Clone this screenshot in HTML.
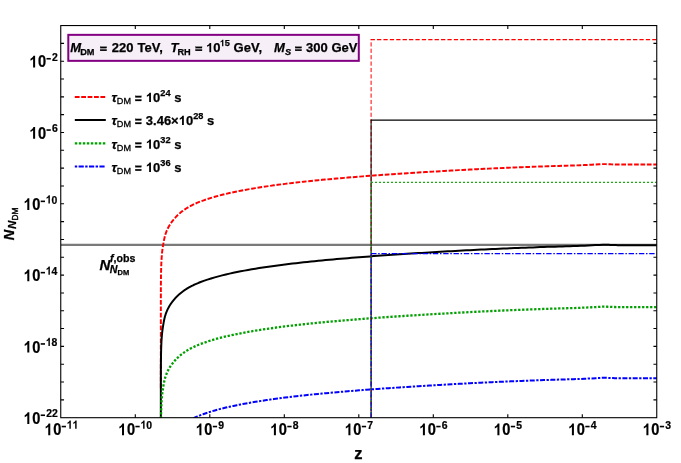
<!DOCTYPE html>
<html><head><meta charset="utf-8"><title>plot</title>
<style>
html,body{margin:0;padding:0;background:#fff;}
svg{display:block;will-change:transform;}
text{font-family:"Liberation Sans",sans-serif;font-weight:bold;fill:#000;stroke:#000;stroke-width:0.25px;}
.tk{font-size:15px;}
.sup{font-size:10.65px;}
.lg{font-size:13px;}
.lgs{font-size:9.2px;}
.sub{font-size:9.1px;font-weight:normal;stroke-width:0.3px;}
.subb{font-size:9.2px;}
.it{font-style:italic;}
.hid{fill:none;stroke:none;}
</style></head><body>
<svg width="681" height="463" viewBox="0 0 681 463">
<rect width="681" height="463" fill="#fff"/>
<defs><clipPath id="c"><rect x="60.75" y="25.55" width="596.0" height="392.15"/></clipPath></defs>
<g clip-path="url(#c)" fill="none" stroke-linejoin="round">
<path d="M60.75 244.9H656.75" stroke="#7a7a7a" stroke-width="2.2"/>
<path d="M160.83 387.90L160.83 387.60L160.83 387.26L160.83 386.86L160.83 386.41L160.83 385.89L160.83 385.31L160.83 384.65L160.83 383.91L160.83 383.08L160.83 382.16L160.83 381.14L160.83 380.03L160.83 378.81L160.83 377.49L160.83 376.07L160.83 374.55L160.83 372.94L160.83 371.23L160.83 369.43L160.83 367.56L160.83 365.60L160.83 363.58L160.83 361.49L160.83 359.35L160.83 357.16L160.83 354.91L160.83 352.63L160.83 350.32L160.83 347.97L160.83 345.59L160.83 343.19L160.83 340.77L160.83 338.34L160.84 335.88L160.84 333.42L160.84 330.94L160.84 328.45L160.84 325.95L160.84 323.45L160.84 320.94L160.84 318.43L160.84 315.91L160.84 313.38L160.84 310.86L160.84 308.33L160.85 305.79L160.85 303.26L160.85 300.73L160.85 298.19L160.86 295.65L160.86 293.11L160.87 290.57L160.88 288.03L160.89 285.49L160.91 282.95L160.94 280.41L160.97 277.86L161.00 275.32L161.05 272.78L161.11 270.24L161.18 267.69L161.27 265.15L161.37 262.61L161.50 260.07L161.67 257.53L161.86 254.99L162.10 252.46L162.39 249.92L162.75 247.39L163.63 242.07L164.25 238.87L164.88 236.24L165.51 234.08L166.14 232.28L166.76 230.72L167.39 229.32L168.02 228.02L168.64 226.80L169.27 225.68L169.90 224.65L170.53 223.68L171.15 222.77L171.78 221.91L172.41 221.08L173.03 220.27L173.66 219.49L174.29 218.74L174.92 218.02L175.54 217.33L176.17 216.66L176.80 216.02L177.42 215.40L178.05 214.80L178.68 214.22L179.31 213.67L179.93 213.13L180.56 212.61L181.19 212.10L181.81 211.61L182.44 211.13L183.07 210.66L183.69 210.21L184.32 209.77L184.95 209.33L185.58 208.91L186.20 208.50L186.83 208.10L187.46 207.71L188.08 207.34L188.71 206.97L189.34 206.62L189.97 206.27L190.59 205.94L191.22 205.61L191.85 205.29L192.47 204.98L193.10 204.68L193.73 204.38L194.36 204.09L194.98 203.80L195.61 203.52L196.24 203.25L196.86 202.98L197.49 202.71L198.12 202.45L198.75 202.19L199.37 201.94L200.00 201.69L203.70 200.30L207.39 199.02L211.09 197.85L214.79 196.76L218.49 195.74L222.18 194.79L225.88 193.89L229.58 193.04L233.28 192.23L236.97 191.46L240.67 190.72L244.37 190.02L248.06 189.35L251.76 188.71L255.46 188.10L259.16 187.51L262.85 186.94L266.55 186.39L270.25 185.86L273.94 185.34L277.64 184.84L281.34 184.35L285.04 183.88L288.73 183.42L292.43 182.98L296.13 182.54L299.83 182.12L303.52 181.71L307.22 181.31L310.92 180.93L314.61 180.56L318.31 180.20L322.01 179.84L325.71 179.50L329.40 179.17L333.10 178.84L336.80 178.51L340.50 178.19L344.19 177.88L347.89 177.57L351.59 177.26L355.28 176.96L358.98 176.66L362.68 176.37L366.38 176.08L370.07 175.79L373.77 175.52L377.47 175.24L381.17 174.97L384.86 174.70L388.56 174.44L392.26 174.19L395.95 173.93L399.65 173.68L403.35 173.44L407.05 173.20L410.74 172.97L414.44 172.74L418.14 172.52L421.83 172.29L425.53 172.07L429.23 171.85L432.93 171.63L436.62 171.41L440.32 171.20L444.02 170.98L447.72 170.77L451.41 170.56L455.11 170.35L458.81 170.14L462.50 169.94L466.20 169.74L469.90 169.54L473.60 169.35L477.29 169.16L480.99 168.98L484.69 168.80L488.39 168.62L492.08 168.45L495.78 168.29L499.48 168.13L503.17 167.96L506.87 167.80L510.57 167.65L514.27 167.49L517.96 167.34L521.66 167.20L525.36 167.05L529.06 166.91L532.75 166.78L536.45 166.64L540.15 166.51L543.84 166.39L547.54 166.27L551.24 166.15L554.94 166.03L558.63 165.92L562.33 165.81L566.03 165.70L569.72 165.60L573.42 165.50L577.12 165.37L580.82 165.22L584.51 165.05L588.21 164.88L591.91 164.69L595.61 164.50L599.30 164.31L603.00 164.10L604.45 164.11L605.91 164.14L607.36 164.19L608.82 164.24L610.27 164.30L611.73 164.36L613.18 164.42L614.64 164.47L616.09 164.51L617.55 164.54L619.00 164.55L660.00 164.55" stroke="#ff0000" stroke-width="1.95" stroke-dasharray="4.7 1.7"/>
<path d="M160.83 468.50L160.83 468.20L160.83 467.86L160.83 467.46L160.83 467.01L160.83 466.49L160.83 465.91L160.83 465.25L160.83 464.51L160.83 463.68L160.83 462.76L160.83 461.74L160.83 460.63L160.83 459.41L160.83 458.09L160.83 456.67L160.83 455.15L160.83 453.54L160.83 451.83L160.83 450.03L160.83 448.16L160.83 446.20L160.83 444.18L160.83 442.09L160.83 439.95L160.83 437.76L160.83 435.51L160.83 433.23L160.83 430.92L160.83 428.57L160.83 426.19L160.83 423.79L160.83 421.37L160.83 418.94L160.84 416.48L160.84 414.02L160.84 411.54L160.84 409.05L160.84 406.55L160.84 404.05L160.84 401.54L160.84 399.03L160.84 396.51L160.84 393.98L160.84 391.46L160.84 388.93L160.85 386.39L160.85 383.86L160.85 381.33L160.85 378.79L160.86 376.25L160.86 373.71L160.87 371.17L160.88 368.63L160.89 366.09L160.91 363.55L160.94 361.01L160.97 358.46L161.00 355.92L161.05 353.38L161.11 350.84L161.18 348.29L161.27 345.75L161.37 343.21L161.50 340.67L161.67 338.13L161.86 335.59L162.10 333.06L162.39 330.52L162.75 327.99L163.63 322.67L164.25 319.47L164.88 316.84L165.51 314.68L166.14 312.88L166.76 311.32L167.39 309.92L168.02 308.62L168.64 307.40L169.27 306.28L169.90 305.25L170.53 304.28L171.15 303.37L171.78 302.51L172.41 301.68L173.03 300.87L173.66 300.09L174.29 299.34L174.92 298.62L175.54 297.93L176.17 297.26L176.80 296.62L177.42 296.00L178.05 295.40L178.68 294.82L179.31 294.27L179.93 293.73L180.56 293.21L181.19 292.70L181.81 292.21L182.44 291.73L183.07 291.26L183.69 290.81L184.32 290.37L184.95 289.93L185.58 289.51L186.20 289.10L186.83 288.70L187.46 288.31L188.08 287.94L188.71 287.57L189.34 287.22L189.97 286.87L190.59 286.54L191.22 286.21L191.85 285.89L192.47 285.58L193.10 285.28L193.73 284.98L194.36 284.69L194.98 284.40L195.61 284.12L196.24 283.85L196.86 283.58L197.49 283.31L198.12 283.05L198.75 282.79L199.37 282.54L200.00 282.29L203.70 280.90L207.39 279.62L211.09 278.45L214.79 277.36L218.49 276.34L222.18 275.39L225.88 274.49L229.58 273.64L233.28 272.83L236.97 272.06L240.67 271.32L244.37 270.62L248.06 269.95L251.76 269.31L255.46 268.70L259.16 268.11L262.85 267.54L266.55 266.99L270.25 266.46L273.94 265.94L277.64 265.44L281.34 264.95L285.04 264.48L288.73 264.02L292.43 263.58L296.13 263.14L299.83 262.72L303.52 262.31L307.22 261.91L310.92 261.53L314.61 261.16L318.31 260.80L322.01 260.44L325.71 260.10L329.40 259.77L333.10 259.44L336.80 259.11L340.50 258.79L344.19 258.48L347.89 258.17L351.59 257.86L355.28 257.56L358.98 257.26L362.68 256.97L366.38 256.68L370.07 256.39L373.77 256.12L377.47 255.84L381.17 255.57L384.86 255.30L388.56 255.04L392.26 254.79L395.95 254.53L399.65 254.28L403.35 254.04L407.05 253.80L410.74 253.57L414.44 253.34L418.14 253.12L421.83 252.89L425.53 252.67L429.23 252.45L432.93 252.23L436.62 252.01L440.32 251.80L444.02 251.58L447.72 251.37L451.41 251.16L455.11 250.95L458.81 250.74L462.50 250.54L466.20 250.34L469.90 250.14L473.60 249.95L477.29 249.76L480.99 249.58L484.69 249.40L488.39 249.22L492.08 249.05L495.78 248.89L499.48 248.73L503.17 248.56L506.87 248.40L510.57 248.25L514.27 248.09L517.96 247.94L521.66 247.80L525.36 247.65L529.06 247.51L532.75 247.38L536.45 247.24L540.15 247.11L543.84 246.99L547.54 246.87L551.24 246.75L554.94 246.63L558.63 246.52L562.33 246.41L566.03 246.30L569.72 246.20L573.42 246.10L577.12 245.97L580.82 245.82L584.51 245.65L588.21 245.48L591.91 245.29L595.61 245.10L599.30 244.91L603.00 244.70L604.45 244.71L605.91 244.74L607.36 244.79L608.82 244.84L610.27 244.90L611.73 244.96L613.18 245.02L614.64 245.07L616.09 245.11L617.55 245.14L619.00 245.15L660.00 245.15" stroke="#000" stroke-width="2"/>
<path d="M160.83 530.45L160.83 530.15L160.83 529.81L160.83 529.41L160.83 528.96L160.83 528.44L160.83 527.86L160.83 527.20L160.83 526.46L160.83 525.63L160.83 524.71L160.83 523.69L160.83 522.58L160.83 521.36L160.83 520.04L160.83 518.62L160.83 517.10L160.83 515.49L160.83 513.78L160.83 511.98L160.83 510.11L160.83 508.15L160.83 506.13L160.83 504.04L160.83 501.90L160.83 499.71L160.83 497.46L160.83 495.18L160.83 492.87L160.83 490.52L160.83 488.14L160.83 485.74L160.83 483.32L160.83 480.89L160.84 478.43L160.84 475.97L160.84 473.49L160.84 471.00L160.84 468.50L160.84 466.00L160.84 463.49L160.84 460.98L160.84 458.46L160.84 455.93L160.84 453.41L160.84 450.88L160.85 448.34L160.85 445.81L160.85 443.28L160.85 440.74L160.86 438.20L160.86 435.66L160.87 433.12L160.88 430.58L160.89 428.04L160.91 425.50L160.94 422.96L160.97 420.41L161.00 417.87L161.05 415.33L161.11 412.79L161.18 410.24L161.27 407.70L161.37 405.16L161.50 402.62L161.67 400.08L161.86 397.54L162.10 395.01L162.39 392.47L162.75 389.94L163.63 384.62L164.25 381.42L164.88 378.79L165.51 376.63L166.14 374.83L166.76 373.27L167.39 371.87L168.02 370.57L168.64 369.35L169.27 368.23L169.90 367.20L170.53 366.23L171.15 365.32L171.78 364.46L172.41 363.63L173.03 362.82L173.66 362.04L174.29 361.29L174.92 360.57L175.54 359.88L176.17 359.21L176.80 358.57L177.42 357.95L178.05 357.35L178.68 356.77L179.31 356.22L179.93 355.68L180.56 355.16L181.19 354.65L181.81 354.16L182.44 353.68L183.07 353.21L183.69 352.76L184.32 352.32L184.95 351.88L185.58 351.46L186.20 351.05L186.83 350.65L187.46 350.26L188.08 349.89L188.71 349.52L189.34 349.17L189.97 348.82L190.59 348.49L191.22 348.16L191.85 347.84L192.47 347.53L193.10 347.23L193.73 346.93L194.36 346.64L194.98 346.35L195.61 346.07L196.24 345.80L196.86 345.53L197.49 345.26L198.12 345.00L198.75 344.74L199.37 344.49L200.00 344.24L203.70 342.85L207.39 341.57L211.09 340.40L214.79 339.31L218.49 338.29L222.18 337.34L225.88 336.44L229.58 335.59L233.28 334.78L236.97 334.01L240.67 333.27L244.37 332.57L248.06 331.90L251.76 331.26L255.46 330.65L259.16 330.06L262.85 329.49L266.55 328.94L270.25 328.41L273.94 327.89L277.64 327.39L281.34 326.90L285.04 326.43L288.73 325.97L292.43 325.53L296.13 325.09L299.83 324.67L303.52 324.26L307.22 323.86L310.92 323.48L314.61 323.11L318.31 322.75L322.01 322.39L325.71 322.05L329.40 321.72L333.10 321.39L336.80 321.06L340.50 320.74L344.19 320.43L347.89 320.12L351.59 319.81L355.28 319.51L358.98 319.21L362.68 318.92L366.38 318.63L370.07 318.34L373.77 318.07L377.47 317.79L381.17 317.52L384.86 317.25L388.56 316.99L392.26 316.74L395.95 316.48L399.65 316.23L403.35 315.99L407.05 315.75L410.74 315.52L414.44 315.29L418.14 315.07L421.83 314.84L425.53 314.62L429.23 314.40L432.93 314.18L436.62 313.96L440.32 313.75L444.02 313.53L447.72 313.32L451.41 313.11L455.11 312.90L458.81 312.69L462.50 312.49L466.20 312.29L469.90 312.09L473.60 311.90L477.29 311.71L480.99 311.53L484.69 311.35L488.39 311.17L492.08 311.00L495.78 310.84L499.48 310.68L503.17 310.51L506.87 310.35L510.57 310.20L514.27 310.04L517.96 309.89L521.66 309.75L525.36 309.60L529.06 309.46L532.75 309.33L536.45 309.19L540.15 309.06L543.84 308.94L547.54 308.82L551.24 308.70L554.94 308.58L558.63 308.47L562.33 308.36L566.03 308.25L569.72 308.15L573.42 308.05L577.12 307.92L580.82 307.77L584.51 307.60L588.21 307.43L591.91 307.24L595.61 307.05L599.30 306.86L603.00 306.65L604.45 306.66L605.91 306.69L607.36 306.74L608.82 306.79L610.27 306.85L611.73 306.91L613.18 306.97L614.64 307.02L616.09 307.06L617.55 307.09L619.00 307.10L660.00 307.10" stroke="#00a000" stroke-width="2.3" stroke-dasharray="2.3 1.7"/>
<path d="M160.83 601.60L160.83 601.30L160.83 600.96L160.83 600.56L160.83 600.11L160.83 599.59L160.83 599.01L160.83 598.35L160.83 597.61L160.83 596.78L160.83 595.86L160.83 594.84L160.83 593.73L160.83 592.51L160.83 591.19L160.83 589.77L160.83 588.25L160.83 586.64L160.83 584.93L160.83 583.13L160.83 581.26L160.83 579.30L160.83 577.28L160.83 575.19L160.83 573.05L160.83 570.86L160.83 568.61L160.83 566.33L160.83 564.02L160.83 561.67L160.83 559.29L160.83 556.89L160.83 554.47L160.83 552.04L160.84 549.58L160.84 547.12L160.84 544.64L160.84 542.15L160.84 539.65L160.84 537.15L160.84 534.64L160.84 532.13L160.84 529.61L160.84 527.08L160.84 524.56L160.84 522.03L160.85 519.49L160.85 516.96L160.85 514.43L160.85 511.89L160.86 509.35L160.86 506.81L160.87 504.27L160.88 501.73L160.89 499.19L160.91 496.65L160.94 494.11L160.97 491.56L161.00 489.02L161.05 486.48L161.11 483.94L161.18 481.39L161.27 478.85L161.37 476.31L161.50 473.77L161.67 471.23L161.86 468.69L162.10 466.16L162.39 463.62L162.75 461.09L163.63 455.77L164.25 452.57L164.88 449.94L165.51 447.78L166.14 445.98L166.76 444.42L167.39 443.02L168.02 441.72L168.64 440.50L169.27 439.38L169.90 438.35L170.53 437.38L171.15 436.47L171.78 435.61L172.41 434.78L173.03 433.97L173.66 433.19L174.29 432.44L174.92 431.72L175.54 431.03L176.17 430.36L176.80 429.72L177.42 429.10L178.05 428.50L178.68 427.92L179.31 427.37L179.93 426.83L180.56 426.31L181.19 425.80L181.81 425.31L182.44 424.83L183.07 424.36L183.69 423.91L184.32 423.47L184.95 423.03L185.58 422.61L186.20 422.20L186.83 421.80L187.46 421.41L188.08 421.04L188.71 420.67L189.34 420.32L189.97 419.97L190.59 419.64L191.22 419.31L191.85 418.99L192.47 418.68L193.10 418.38L193.73 418.08L194.36 417.79L194.98 417.50L195.61 417.22L196.24 416.95L196.86 416.68L197.49 416.41L198.12 416.15L198.75 415.89L199.37 415.64L200.00 415.39L203.70 414.00L207.39 412.72L211.09 411.55L214.79 410.46L218.49 409.44L222.18 408.49L225.88 407.59L229.58 406.74L233.28 405.93L236.97 405.16L240.67 404.42L244.37 403.72L248.06 403.05L251.76 402.41L255.46 401.80L259.16 401.21L262.85 400.64L266.55 400.09L270.25 399.56L273.94 399.04L277.64 398.54L281.34 398.05L285.04 397.58L288.73 397.12L292.43 396.68L296.13 396.24L299.83 395.82L303.52 395.41L307.22 395.01L310.92 394.63L314.61 394.26L318.31 393.90L322.01 393.54L325.71 393.20L329.40 392.87L333.10 392.54L336.80 392.21L340.50 391.89L344.19 391.58L347.89 391.27L351.59 390.96L355.28 390.66L358.98 390.36L362.68 390.07L366.38 389.78L370.07 389.49L373.77 389.22L377.47 388.94L381.17 388.67L384.86 388.40L388.56 388.14L392.26 387.89L395.95 387.63L399.65 387.38L403.35 387.14L407.05 386.90L410.74 386.67L414.44 386.44L418.14 386.22L421.83 385.99L425.53 385.77L429.23 385.55L432.93 385.33L436.62 385.11L440.32 384.90L444.02 384.68L447.72 384.47L451.41 384.26L455.11 384.05L458.81 383.84L462.50 383.64L466.20 383.44L469.90 383.24L473.60 383.05L477.29 382.86L480.99 382.68L484.69 382.50L488.39 382.32L492.08 382.15L495.78 381.99L499.48 381.83L503.17 381.66L506.87 381.50L510.57 381.35L514.27 381.19L517.96 381.04L521.66 380.90L525.36 380.75L529.06 380.61L532.75 380.48L536.45 380.34L540.15 380.21L543.84 380.09L547.54 379.97L551.24 379.85L554.94 379.73L558.63 379.62L562.33 379.51L566.03 379.40L569.72 379.30L573.42 379.20L577.12 379.07L580.82 378.92L584.51 378.75L588.21 378.58L591.91 378.39L595.61 378.20L599.30 378.01L603.00 377.80L604.45 377.81L605.91 377.84L607.36 377.89L608.82 377.94L610.27 378.00L611.73 378.06L613.18 378.12L614.64 378.17L616.09 378.21L617.55 378.24L619.00 378.25L660.00 378.25" stroke="#0000ff" stroke-width="2" stroke-dasharray="5 1.5 2.3 1.5"/>
<path d="M371.1 417.7V39.7" stroke="#ff0000" stroke-width="1" stroke-dasharray="4.2 2.2"/>
<path d="M370.6 39.7H656.75" stroke="#ff0000" stroke-width="1.3" stroke-dasharray="4.3 2.1"/>
<path d="M371.1 417.7V120.2" stroke="#000" stroke-width="1"/>
<path d="M370.6 120.2H656.75" stroke="#000" stroke-width="1.2"/>
<path d="M371.1 417.7V182.3" stroke="#00a000" stroke-width="1" stroke-dasharray="1.8 2.2"/>
<path d="M371.1 182.3H656.75" stroke="#00a000" stroke-width="1.25" stroke-dasharray="1.8 2.2"/>
<path d="M371.1 417.7V253.55" stroke="#0000ff" stroke-width="1" stroke-dasharray="5.4 1.7 1.5 1.7"/>
<path d="M371.1 253.55H656.75" stroke="#0000ff" stroke-width="1.25" stroke-dasharray="5.4 1.7 1.5 1.7"/>
</g>
<g fill="none" stroke="#000" stroke-width="1.1">
<rect x="60.75" y="25.55" width="596.0" height="392.15"/>
<path d="M60.75 399.88h3.3M656.75 399.88h-3.3"/><path d="M60.75 382.05h3.3M656.75 382.05h-3.3"/><path d="M60.75 364.23h3.3M656.75 364.23h-3.3"/><path d="M60.75 346.40h3.3M656.75 346.40h-3.3"/><path d="M60.75 328.57h3.3M656.75 328.57h-3.3"/><path d="M60.75 310.75h3.3M656.75 310.75h-3.3"/><path d="M60.75 292.93h3.3M656.75 292.93h-3.3"/><path d="M60.75 275.10h3.3M656.75 275.10h-3.3"/><path d="M60.75 257.27h3.3M656.75 257.27h-3.3"/><path d="M60.75 239.45h3.3M656.75 239.45h-3.3"/><path d="M60.75 221.62h3.3M656.75 221.62h-3.3"/><path d="M60.75 203.80h3.3M656.75 203.80h-3.3"/><path d="M60.75 185.97h3.3M656.75 185.97h-3.3"/><path d="M60.75 168.15h3.3M656.75 168.15h-3.3"/><path d="M60.75 150.32h3.3M656.75 150.32h-3.3"/><path d="M60.75 132.50h3.3M656.75 132.50h-3.3"/><path d="M60.75 114.67h3.3M656.75 114.67h-3.3"/><path d="M60.75 96.85h3.3M656.75 96.85h-3.3"/><path d="M60.75 79.02h3.3M656.75 79.02h-3.3"/><path d="M60.75 61.20h3.3M656.75 61.20h-3.3"/><path d="M60.75 43.38h3.3M656.75 43.38h-3.3"/><path d="M135.30 417.70v-3.5M135.30 25.55v3.5"/><path d="M209.80 417.70v-3.5M209.80 25.55v3.5"/><path d="M284.30 417.70v-3.5M284.30 25.55v3.5"/><path d="M358.80 417.70v-3.5M358.80 25.55v3.5"/><path d="M433.30 417.70v-3.5M433.30 25.55v3.5"/><path d="M507.80 417.70v-3.5M507.80 25.55v3.5"/><path d="M582.30 417.70v-3.5M582.30 25.55v3.5"/>
</g>
<g transform="translate(24.70,423.90)"><path d="M806 0H524V1055Q370 911 161 842V1096Q271 1132 400 1232Q529 1333 577 1467H806Z" transform="translate(-1.15,0.00) scale(0.00716,-0.00796)"/><text transform="translate(7.51,0.00) scale(0.900,1)" style="font-size:16.30px">0</text><rect x="16.0" y="-9.45" width="4.3" height="1.6" fill="#000"/><text transform="translate(21.50,-6.50) scale(0.900,1)" style="font-size:11.60px">2</text><text transform="translate(27.30,-6.50) scale(0.900,1)" style="font-size:11.60px">2</text></g><g transform="translate(24.70,352.60)"><path d="M806 0H524V1055Q370 911 161 842V1096Q271 1132 400 1232Q529 1333 577 1467H806Z" transform="translate(-1.15,0.00) scale(0.00716,-0.00796)"/><text transform="translate(7.51,0.00) scale(0.900,1)" style="font-size:16.30px">0</text><rect x="16.0" y="-9.45" width="4.3" height="1.6" fill="#000"/><path d="M806 0H524V1055Q370 911 161 842V1096Q271 1132 400 1232Q529 1333 577 1467H806Z" transform="translate(21.05,-6.50) scale(0.00510,-0.00566)"/><text transform="translate(26.85,-6.50) scale(0.900,1)" style="font-size:11.60px">8</text></g><g transform="translate(24.70,281.30)"><path d="M806 0H524V1055Q370 911 161 842V1096Q271 1132 400 1232Q529 1333 577 1467H806Z" transform="translate(-1.15,0.00) scale(0.00716,-0.00796)"/><text transform="translate(7.51,0.00) scale(0.900,1)" style="font-size:16.30px">0</text><rect x="16.0" y="-9.45" width="4.3" height="1.6" fill="#000"/><path d="M806 0H524V1055Q370 911 161 842V1096Q271 1132 400 1232Q529 1333 577 1467H806Z" transform="translate(21.05,-6.50) scale(0.00510,-0.00566)"/><text transform="translate(26.85,-6.50) scale(0.900,1)" style="font-size:11.60px">4</text></g><g transform="translate(24.70,210.00)"><path d="M806 0H524V1055Q370 911 161 842V1096Q271 1132 400 1232Q529 1333 577 1467H806Z" transform="translate(-1.15,0.00) scale(0.00716,-0.00796)"/><text transform="translate(7.51,0.00) scale(0.900,1)" style="font-size:16.30px">0</text><rect x="16.0" y="-9.45" width="4.3" height="1.6" fill="#000"/><path d="M806 0H524V1055Q370 911 161 842V1096Q271 1132 400 1232Q529 1333 577 1467H806Z" transform="translate(21.05,-6.50) scale(0.00510,-0.00566)"/><text transform="translate(26.85,-6.50) scale(0.900,1)" style="font-size:11.60px">0</text></g><g transform="translate(30.50,138.70)"><path d="M806 0H524V1055Q370 911 161 842V1096Q271 1132 400 1232Q529 1333 577 1467H806Z" transform="translate(-1.15,0.00) scale(0.00716,-0.00796)"/><text transform="translate(7.51,0.00) scale(0.900,1)" style="font-size:16.30px">0</text><rect x="16.0" y="-9.45" width="4.3" height="1.6" fill="#000"/><text transform="translate(21.50,-6.50) scale(0.900,1)" style="font-size:11.60px">6</text></g><g transform="translate(30.50,67.40)"><path d="M806 0H524V1055Q370 911 161 842V1096Q271 1132 400 1232Q529 1333 577 1467H806Z" transform="translate(-1.15,0.00) scale(0.00716,-0.00796)"/><text transform="translate(7.51,0.00) scale(0.900,1)" style="font-size:16.30px">0</text><rect x="16.0" y="-9.45" width="4.3" height="1.6" fill="#000"/><text transform="translate(21.50,-6.50) scale(0.900,1)" style="font-size:11.60px">2</text></g><g transform="translate(45.65,435.20)"><path d="M806 0H524V1055Q370 911 161 842V1096Q271 1132 400 1232Q529 1333 577 1467H806Z" transform="translate(-1.15,0.00) scale(0.00716,-0.00796)"/><text transform="translate(7.51,0.00) scale(0.900,1)" style="font-size:16.30px">0</text><rect x="16.0" y="-9.45" width="4.3" height="1.6" fill="#000"/><path d="M806 0H524V1055Q370 911 161 842V1096Q271 1132 400 1232Q529 1333 577 1467H806Z" transform="translate(21.05,-6.50) scale(0.00510,-0.00566)"/><path d="M806 0H524V1055Q370 911 161 842V1096Q271 1132 400 1232Q529 1333 577 1467H806Z" transform="translate(26.85,-6.50) scale(0.00510,-0.00566)"/></g><g transform="translate(119.40,435.20)"><path d="M806 0H524V1055Q370 911 161 842V1096Q271 1132 400 1232Q529 1333 577 1467H806Z" transform="translate(-1.15,0.00) scale(0.00716,-0.00796)"/><text transform="translate(7.51,0.00) scale(0.900,1)" style="font-size:16.30px">0</text><rect x="16.0" y="-9.45" width="4.3" height="1.6" fill="#000"/><path d="M806 0H524V1055Q370 911 161 842V1096Q271 1132 400 1232Q529 1333 577 1467H806Z" transform="translate(21.05,-6.50) scale(0.00510,-0.00566)"/><text transform="translate(26.85,-6.50) scale(0.900,1)" style="font-size:11.60px">0</text></g><g transform="translate(196.80,435.20)"><path d="M806 0H524V1055Q370 911 161 842V1096Q271 1132 400 1232Q529 1333 577 1467H806Z" transform="translate(-1.15,0.00) scale(0.00716,-0.00796)"/><text transform="translate(7.51,0.00) scale(0.900,1)" style="font-size:16.30px">0</text><rect x="16.0" y="-9.45" width="4.3" height="1.6" fill="#000"/><text transform="translate(21.50,-6.50) scale(0.900,1)" style="font-size:11.60px">9</text></g><g transform="translate(271.30,435.20)"><path d="M806 0H524V1055Q370 911 161 842V1096Q271 1132 400 1232Q529 1333 577 1467H806Z" transform="translate(-1.15,0.00) scale(0.00716,-0.00796)"/><text transform="translate(7.51,0.00) scale(0.900,1)" style="font-size:16.30px">0</text><rect x="16.0" y="-9.45" width="4.3" height="1.6" fill="#000"/><text transform="translate(21.50,-6.50) scale(0.900,1)" style="font-size:11.60px">8</text></g><g transform="translate(345.80,435.20)"><path d="M806 0H524V1055Q370 911 161 842V1096Q271 1132 400 1232Q529 1333 577 1467H806Z" transform="translate(-1.15,0.00) scale(0.00716,-0.00796)"/><text transform="translate(7.51,0.00) scale(0.900,1)" style="font-size:16.30px">0</text><rect x="16.0" y="-9.45" width="4.3" height="1.6" fill="#000"/><text transform="translate(21.50,-6.50) scale(0.900,1)" style="font-size:11.60px">7</text></g><g transform="translate(420.30,435.20)"><path d="M806 0H524V1055Q370 911 161 842V1096Q271 1132 400 1232Q529 1333 577 1467H806Z" transform="translate(-1.15,0.00) scale(0.00716,-0.00796)"/><text transform="translate(7.51,0.00) scale(0.900,1)" style="font-size:16.30px">0</text><rect x="16.0" y="-9.45" width="4.3" height="1.6" fill="#000"/><text transform="translate(21.50,-6.50) scale(0.900,1)" style="font-size:11.60px">6</text></g><g transform="translate(494.80,435.20)"><path d="M806 0H524V1055Q370 911 161 842V1096Q271 1132 400 1232Q529 1333 577 1467H806Z" transform="translate(-1.15,0.00) scale(0.00716,-0.00796)"/><text transform="translate(7.51,0.00) scale(0.900,1)" style="font-size:16.30px">0</text><rect x="16.0" y="-9.45" width="4.3" height="1.6" fill="#000"/><text transform="translate(21.50,-6.50) scale(0.900,1)" style="font-size:11.60px">5</text></g><g transform="translate(569.30,435.20)"><path d="M806 0H524V1055Q370 911 161 842V1096Q271 1132 400 1232Q529 1333 577 1467H806Z" transform="translate(-1.15,0.00) scale(0.00716,-0.00796)"/><text transform="translate(7.51,0.00) scale(0.900,1)" style="font-size:16.30px">0</text><rect x="16.0" y="-9.45" width="4.3" height="1.6" fill="#000"/><text transform="translate(21.50,-6.50) scale(0.900,1)" style="font-size:11.60px">4</text></g><g transform="translate(643.80,435.20)"><path d="M806 0H524V1055Q370 911 161 842V1096Q271 1132 400 1232Q529 1333 577 1467H806Z" transform="translate(-1.15,0.00) scale(0.00716,-0.00796)"/><text transform="translate(7.51,0.00) scale(0.900,1)" style="font-size:16.30px">0</text><rect x="16.0" y="-9.45" width="4.3" height="1.6" fill="#000"/><text transform="translate(21.50,-6.50) scale(0.900,1)" style="font-size:11.60px">3</text></g>
<text x="358.3" y="458.7" text-anchor="middle" style="font-size:16.5px">z</text>
<g transform="translate(14.3,240.3) rotate(-90)"><text transform="scale(0.96,1)" x="0" y="0" style="font-size:15px" class="it">N</text><text x="11.4" y="2.0" style="font-size:11.6px" class="it">N</text><text x="19.9" y="3.9" style="font-size:8.3px;font-weight:normal;stroke-width:0.4px">DM</text></g>
<text x="99.4" y="269.8" style="font-size:14.9px" class="it">N</text>
<text x="110" y="261.5" style="font-size:10.65px"><tspan class="it">f</tspan>,obs</text>
<text x="109.8" y="272.8" style="font-size:10.65px" class="it">N<tspan dy="1.9" style="font-size:7.5px;font-style:normal">DM</tspan></text>
<rect x="68.3" y="34.85" width="290.5" height="26" fill="#f6eff7" stroke="#830083" stroke-width="2"/>
<text x="70.3" y="52.2" class="lg"><tspan class="it">M</tspan><tspan class="subb" dy="2.4" dx="-0.9">DM</tspan><tspan dy="-2.4" dx="5.0"><tspan class="hid">=</tspan></tspan><tspan dx="4.6">220</tspan><tspan dx="4.1">TeV,</tspan><tspan dx="7.6" class="it">T</tspan><tspan class="subb" dy="2.4" dx="-1.0">RH</tspan><tspan dy="-2.4" dx="4.2"><tspan class="hid">=</tspan></tspan><tspan dx="3.6"><tspan class="hid">1</tspan>0</tspan><tspan class="lgs" dy="-5.9" dx="-0.8"><tspan class="hid">1</tspan>5</tspan><tspan dy="5.9" dx="3.6">GeV,</tspan><tspan dx="12.1" class="it">M</tspan><tspan class="subb it" dy="2.4">S</tspan><tspan dy="-2.4" dx="3.4"><tspan class="hid">=</tspan></tspan><tspan dx="3.9">300</tspan><tspan dx="3.8">GeV</tspan></text>
<g fill="none" stroke-width="2">
<path d="M74.8 96.9H105.8" stroke="#ff0000" stroke-dasharray="4.8 1.6"/>
<path d="M74.8 120H105.8" stroke="#000"/>
<path d="M74.8 143.4H105.8" stroke="#00a000" stroke-width="2.2" stroke-dasharray="2.5 1.5"/>
<path d="M74.8 166.6H105.8" stroke="#0000ff" stroke-dasharray="5.2 1.4 2.4 1.4" stroke-dashoffset="6.6"/>
</g>
<text x="111.5" y="102.1" class="lg"><tspan class="it">τ</tspan><tspan class="sub" dy="2.3">DM</tspan><tspan dy="-2.3"> <tspan class="hid">=</tspan> <tspan class="hid">1</tspan>0</tspan><tspan class="lgs" dy="-6.1">24</tspan><tspan dy="6.1"> s</tspan></text>
<text x="111.5" y="125.1" class="lg"><tspan class="it">τ</tspan><tspan class="sub" dy="2.3">DM</tspan><tspan dy="-2.3"> <tspan class="hid">=</tspan> 3.46×<tspan class="hid">1</tspan>0</tspan><tspan class="lgs" dy="-6.1">28</tspan><tspan dy="6.1"> s</tspan></text>
<text x="111.5" y="148.7" class="lg"><tspan class="it">τ</tspan><tspan class="sub" dy="2.3">DM</tspan><tspan dy="-2.3"> <tspan class="hid">=</tspan> <tspan class="hid">1</tspan>0</tspan><tspan class="lgs" dy="-6.1">32</tspan><tspan dy="6.1"> s</tspan></text>
<text x="111.5" y="171.9" class="lg"><tspan class="it">τ</tspan><tspan class="sub" dy="2.3">DM</tspan><tspan dy="-2.3"> <tspan class="hid">=</tspan> <tspan class="hid">1</tspan>0</tspan><tspan class="lgs" dy="-6.1">36</tspan><tspan dy="6.1"> s</tspan></text>
<g fill="#000" stroke="#000" stroke-width="0.2"><rect x="100.19" y="46.70" width="6.50" height="1.50"/><rect x="100.19" y="49.40" width="6.50" height="1.50"/><rect x="195.52" y="46.70" width="6.50" height="1.50"/><rect x="195.52" y="49.40" width="6.50" height="1.50"/><path d="M806 0H524V1055Q370 911 161 842V1096Q271 1132 400 1232Q529 1333 577 1467H806Z" transform="translate(206.06,52.20) scale(0.00635,-0.00635)"/><path d="M806 0H524V1055Q370 911 161 842V1096Q271 1132 400 1232Q529 1333 577 1467H806Z" transform="translate(219.73,46.30) scale(0.00449,-0.00449)"/><rect x="295.15" y="46.70" width="6.50" height="1.50"/><rect x="295.15" y="49.40" width="6.50" height="1.50"/><rect x="135.26" y="95.89" width="6.17" height="1.62"/><rect x="135.26" y="99.39" width="6.17" height="1.62"/><path d="M806 0H524V1055Q370 911 161 842V1096Q271 1132 400 1232Q529 1333 577 1467H806Z" transform="translate(145.83,102.10) scale(0.00635,-0.00635)"/><rect x="135.26" y="118.89" width="6.17" height="1.62"/><rect x="135.26" y="122.39" width="6.17" height="1.62"/><path d="M806 0H524V1055Q370 911 161 842V1096Q271 1132 400 1232Q529 1333 577 1467H806Z" transform="translate(178.72,125.10) scale(0.00635,-0.00635)"/><rect x="135.26" y="142.49" width="6.17" height="1.62"/><rect x="135.26" y="145.99" width="6.17" height="1.62"/><path d="M806 0H524V1055Q370 911 161 842V1096Q271 1132 400 1232Q529 1333 577 1467H806Z" transform="translate(145.83,148.70) scale(0.00635,-0.00635)"/><rect x="135.26" y="165.69" width="6.17" height="1.62"/><rect x="135.26" y="169.19" width="6.17" height="1.62"/><path d="M806 0H524V1055Q370 911 161 842V1096Q271 1132 400 1232Q529 1333 577 1467H806Z" transform="translate(145.83,171.90) scale(0.00635,-0.00635)"/></g>
</svg>
</body></html>
